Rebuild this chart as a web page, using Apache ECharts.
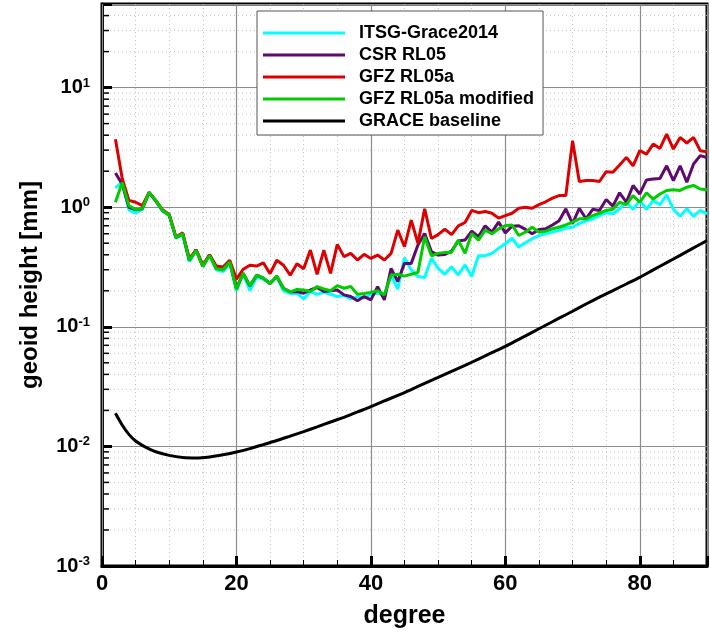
<!DOCTYPE html>
<html>
<head>
<meta charset="utf-8">
<script src="https://cdn.jsdelivr.net/npm/echarts@6/dist/echarts.min.js"></script>
<style>html,body{margin:0;padding:0;background:#fff;}#c{width:710px;height:634px;}</style>
</head>
<body>
<div id="c"></div>
<script>
const degrees = [2,3,4,5,6,7,8,9,10,11,12,13,14,15,16,17,18,19,20,21,22,23,24,25,26,27,28,29,30,31,32,33,34,35,36,37,38,39,40,41,42,43,44,45,46,47,48,49,50,51,52,53,54,55,56,57,58,59,60,61,62,63,64,65,66,67,68,69,70,71,72,73,74,75,76,77,78,79,80,81,82,83,84,85,86,87,88,89,90];
const itsg = [1.45,1.62,0.95,0.89,0.96,1.32,1.12,0.93,0.85,0.55,
  0.59,0.35,0.44,0.32,0.40,0.30,0.29,0.34,0.20,0.28,
  0.20,0.26,0.25,0.23,0.26,0.20,0.19,0.191,0.171,0.197,
  0.187,0.194,0.187,0.179,0.183,0.171,0.179,0.174,0.187,0.191,
  0.185,0.271,0.207,0.378,0.299,0.263,0.258,0.373,0.308,0.275,
  0.318,0.271,0.329,0.263,0.393,0.393,0.411,0.453,0.495,0.55,
  0.464,0.505,0.545,0.58,0.60,0.62,0.64,0.67,0.68,0.73,
  0.77,0.80,0.85,0.90,0.88,0.97,1.10,0.96,1.14,0.96,
  1.14,1.05,1.27,0.96,0.84,0.97,0.84,0.94,0.88];
const csr = [1.93,1.56,1.0,0.95,0.97,1.33,1.13,0.94,0.86,0.56,
  0.60,0.36,0.44,0.32,0.40,0.31,0.30,0.35,0.21,0.28,
  0.22,0.27,0.255,0.23,0.265,0.21,0.196,0.197,0.191,0.203,
  0.213,0.197,0.2,0.203,0.185,0.179,0.165,0.179,0.168,0.217,
  0.168,0.308,0.239,0.339,0.339,0.482,0.603,0.425,0.398,0.403,
  0.43,0.521,0.531,0.631,0.566,0.699,0.62,0.75,0.61,0.694,
  0.70,0.652,0.60,0.652,0.66,0.71,0.77,0.97,0.73,0.98,
  0.80,0.96,0.94,1.16,1.02,1.32,1.10,1.52,1.29,1.69,
  1.72,1.74,2.22,1.67,2.22,1.62,2.3,2.7,2.6];
const gfz = [3.7,1.75,1.14,1.1,1.03,1.33,1.14,0.95,0.87,0.56,
  0.61,0.37,0.44,0.33,0.40,0.322,0.316,0.36,0.25,0.303,
  0.327,0.322,0.343,0.278,0.36,0.327,0.27,0.337,0.306,0.438,
  0.275,0.438,0.28,0.489,0.386,0.411,0.362,0.403,0.373,0.398,
  0.362,0.411,0.643,0.467,0.78,0.498,0.97,0.548,0.59,0.655,
  0.59,0.699,0.745,0.94,0.9,0.92,0.89,0.81,0.85,0.89,
  0.98,1.0,0.98,1.05,1.11,1.19,1.25,1.25,3.59,1.64,
  1.67,1.67,1.64,1.98,1.96,2.25,2.61,2.22,2.97,2.78,
  3.37,3.1,4.08,3.06,3.83,3.44,3.83,2.97,2.9];
const gfzMod = [1.1,1.61,1.03,0.956,0.97,1.33,1.14,0.94,0.86,0.555,
  0.60,0.36,0.435,0.32,0.395,0.306,0.30,0.348,0.205,0.28,
  0.222,0.27,0.256,0.23,0.266,0.209,0.196,0.205,0.203,0.197,
  0.217,0.207,0.2,0.221,0.21,0.217,0.187,0.19,0.194,0.2,
  0.185,0.27,0.275,0.265,0.275,0.285,0.566,0.393,0.411,0.419,
  0.419,0.531,0.411,0.603,0.531,0.643,0.60,0.66,0.70,0.71,
  0.58,0.62,0.68,0.62,0.63,0.66,0.68,0.71,0.75,0.80,
  0.80,0.85,0.89,0.94,0.96,1.10,1.05,1.25,1.10,1.32,
  1.17,1.29,1.38,1.40,1.38,1.47,1.52,1.42,1.4];
const baseDeg = [2,3,4,5,6,7,8,10,12,14,16,18,20,22,24,26,28,30,32,34,36,38,40,42,44,46,48,50,52,54,56,58,60,62,64,66,68,70,72,74,76,78,80,82,84,86,88,90];
const baseline = [0.0189,0.0151,0.0126,0.0111,0.0102,0.00955,0.00902,0.00841,0.00807,0.0080,0.00817,0.00851,0.00897,0.00959,0.01035,0.0112,0.0122,0.0133,0.01455,0.0160,0.0175,0.0194,0.0215,0.0240,0.0267,0.0299,0.0336,0.0377,0.0424,0.0476,0.0537,0.0607,0.0686,0.0785,0.0899,0.103,0.118,0.135,0.155,0.177,0.201,0.228,0.259,0.299,0.344,0.396,0.457,0.525];
const seriesNames = ['ITSG-Grace2014','CSR RL05','GFZ RL05a','GFZ RL05a modified','GRACE baseline'];
const seriesColors = ['#00ffff','#5e0a6e','#dd0000','#00cc00','#000000'];
const yMinorTicks = [0.002,0.003,0.004,0.005,0.006,0.007,0.008,0.009,0.02,0.03,0.04,0.05,0.06,0.07,0.08,0.09,0.2,0.3,0.4,0.5,0.6,0.7,0.8,0.9,2,3,4,5,6,7,8,9,20,30,40];

const FONT = 'Liberation Sans';
const chart = echarts.init(document.getElementById('c'), null, {renderer:'canvas'});

function pair(xs, ys){ return xs.map((d,i)=>[d, ys[i]]); }

const lineSeries = [itsg, csr, gfz, gfzMod].map((arr, k) => ({
  name: seriesNames[k], type: 'line', data: pair(degrees, arr),
  showSymbol: false, symbol: 'none', z: 3 + k,
  lineStyle: {color: seriesColors[k], width: 3}, itemStyle: {color: seriesColors[k]}
}));
lineSeries.push({
  name: seriesNames[4], type: 'line', data: pair(baseDeg, baseline), smooth: 0.3,
  showSymbol: false, symbol: 'none', z: 8,
  lineStyle: {color: '#000', width: 3}, itemStyle: {color: '#000'}
});

const option = {
  animation: false,
  textStyle: {fontFamily: FONT},
  grid: {left: 102, top: 4, width: 618, height: 564, show: true, borderColor: '#000', borderWidth: 3, backgroundColor: 'transparent'},
  legend: {
    data: seriesNames.map(n => ({name: n, icon: 'rect'})), orient: 'vertical', left: 257, top: 11,
    backgroundColor: '#fff', borderColor: '#555', borderWidth: 1,
    padding: [11, 9, 3, 6], itemWidth: 82, itemHeight: 3, itemGap: 0,
    selectedMode: false,
    textStyle: {fontFamily: FONT, fontSize: 18, fontWeight: 'bold', color: '#000', lineHeight: 22, padding: [0,0,0,9]}
  },
  xAxis: [{
    type: 'value', min: 0, max: 90, interval: 20, position: 'bottom', z: 2,
    name: 'degree', nameLocation: 'middle', nameGap: 38,
    nameTextStyle: {fontFamily: FONT, fontSize: 25, fontWeight: 'bold', color: '#000'},
    axisLine: {show: true, lineStyle: {color: '#000', width: 3}},
    axisTick: {show: true, inside: true, length: 10, lineStyle: {color: '#000', width: 3}},
    axisLabel: {fontFamily: FONT, fontSize: 22, fontWeight: 'bold', color: '#000', margin: 7,
      formatter: v => (v % 20 === 0 ? String(v) : '')},
    splitLine: {show: true, lineStyle: {color: '#8c8c8c', width: 1.2}}
  }, {
    type: 'value', min: 0, max: 90, interval: 5, position: 'bottom', z: 1,
    axisLine: {show: false},
    axisTick: {show: true, inside: true, length: 6, lineStyle: {color: '#000', width: 1}},
    axisLabel: {show: false},
    splitLine: {show: true, lineStyle: {color: '#c4c4c4', width: 1, type: [1, 3]}}
  }],
  yAxis: {
    type: 'log', logBase: 10, min: 0.001, max: 50,
    name: 'geoid height [mm]', nameLocation: 'middle', nameGap: 60,
    nameTextStyle: {fontFamily: FONT, fontSize: 24, fontWeight: 'bold', color: '#000'},
    axisLine: {show: true, lineStyle: {color: '#000', width: 3}},
    axisTick: {show: true, inside: true, length: 10, lineStyle: {color: '#000', width: 3}},
    axisLabel: {
      margin: 12, color: '#000',
      formatter: function(v){
        const l = Math.log10(v); const e = Math.round(l);
        if (Math.abs(l - e) > 1e-6) return '';
        return '{b|10}{s|' + e + '}';
      },
      rich: {
        b: {fontFamily: FONT, fontSize: 20, fontWeight: 'bold', color: '#000', lineHeight: 24},
        s: {fontFamily: FONT, fontSize: 13, fontWeight: 'bold', color: '#000', lineHeight: 14, padding: [0,0,9,0]}
      }
    },
    splitLine: {show: true, lineStyle: {color: '#8c8c8c', width: 1.2}}
  },
  series: [{
    type: 'custom', name: 'yminor', silent: true, z: 1, clip: false,
    xAxisIndex: 0, yAxisIndex: 0,
    data: yMinorTicks.map(v => [0, v]),
    renderItem: function(params, api){
      const p = api.coord([0, api.value(1)]);
      const cs = params.coordSys;
      return {type: 'group', children: [
        {type: 'line', shape: {x1: cs.x, y1: p[1], x2: cs.x + cs.width, y2: p[1]}, style: {stroke: '#c4c4c4', lineWidth: 1, lineDash: [1, 3]}},
        {type: 'line', shape: {x1: cs.x, y1: p[1], x2: cs.x + 7, y2: p[1]}, style: {stroke: '#000', lineWidth: 1.5}}
      ]};
    }
  }].concat(lineSeries)
};
chart.setOption(option);
</script>
</body>
</html>
